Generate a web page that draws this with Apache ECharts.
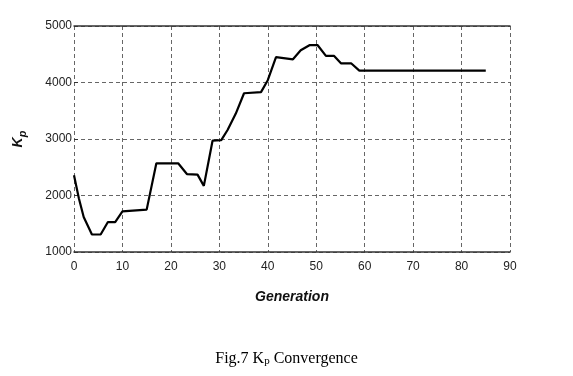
<!DOCTYPE html>
<html>
<head>
<meta charset="utf-8">
<script src="https://cdn.jsdelivr.net/npm/echarts@6/dist/echarts.min.js"></script>
<style>
  html, body { margin: 0; padding: 0; background: #fff; }
  #chart { width: 573px; height: 376px; }
</style>
</head>
<body>
<div id="chart"></div>
<script>
// vertices of the Kp curve
const generation = [0, 1, 2, 3.7, 5.5, 7, 8.5, 10, 15, 17, 21.5, 23.3, 25.5, 26.8, 28.6, 30.4, 31.7, 33.4, 35.1, 38.6, 40, 41.7, 45.2, 46.8, 48.6, 50.3, 52, 53.7, 55.1, 57.2, 58.9, 85];
const kp = [2360, 1950, 1620, 1310, 1310, 1530, 1530, 1720, 1750, 2570, 2570, 2380, 2370, 2170, 2970, 2980, 3160, 3450, 3810, 3830, 4040, 4450, 4410, 4570, 4660, 4660, 4470, 4470, 4340, 4340, 4210, 4210];
const xTicks = [0, 10, 20, 30, 40, 50, 60, 70, 80, 90];
const yTicks = [1000, 2000, 3000, 4000, 5000];

const chart = echarts.init(document.getElementById('chart'));
const tickFont = 'Liberation Sans Narrow, Liberation Sans, sans-serif';
const gridLine = { show: true, lineStyle: { color: '#666', type: [4, 3], width: 1 } };

chart.setOption({
  animation: false,
  title: {
    text: 'Fig.7 {k|K}{s|p} Convergence',
    left: 'center',
    top: 345,
    textStyle: {
      fontFamily: 'Liberation Serif',
      fontSize: 16,
      fontWeight: 'normal',
      color: '#000',
      rich: {
        k: { fontFamily: 'Liberation Serif', fontSize: 16, color: '#000' },
        s: { fontFamily: 'Liberation Serif', fontSize: 11, color: '#000', verticalAlign: 'bottom', padding: [6, 0, 0, 0] }
      }
    }
  },
  grid: { left: 74, right: 63, top: 26, bottom: 124 },
  xAxis: [{
    type: 'value',
    min: 0, max: 90, interval: 10,
    name: 'Generation',
    nameLocation: 'middle',
    nameGap: 38,
    nameTextStyle: { fontFamily: 'Liberation Sans', fontStyle: 'italic', fontWeight: 'bold', fontSize: 14, color: '#111' },
    axisLine: { show: true, lineStyle: { color: '#333', width: 1.5 } },
    axisTick: { show: false },
    axisLabel: { fontFamily: tickFont, fontSize: 12, color: '#222', margin: 9,
      formatter: v => xTicks.includes(v) ? String(v) : '' },
    splitLine: gridLine
  }, {
    type: 'value',
    position: 'top',
    min: 0, max: 90, interval: 10,
    axisLine: { show: true, lineStyle: { color: '#333', width: 1.5 } },
    axisTick: { show: false },
    axisLabel: { show: false },
    splitLine: { show: false }
  }],
  yAxis: {
    type: 'value',
    min: 1000, max: 5000, interval: 1000,
    name: '{k|K}{p|p}',
    nameLocation: 'middle',
    nameRotate: 90,
    nameGap: 46,
    nameTextStyle: {
      rich: {
        k: { fontFamily: 'Liberation Sans', fontStyle: 'italic', fontWeight: 'bold', fontSize: 14, color: '#111' },
        p: { fontFamily: 'Liberation Sans', fontStyle: 'italic', fontWeight: 'bold', fontSize: 11, color: '#111', padding: [8, 0, 0, 0] }
      }
    },
    axisLine: { show: false },
    axisTick: { show: true, inside: true, length: 4, lineStyle: { color: '#333' } },
    axisLabel: { fontFamily: tickFont, fontSize: 12, color: '#222', margin: 2,
      formatter: v => yTicks.includes(v) ? String(v) : '' },
    splitLine: gridLine
  },
  series: [{
    type: 'line',
    data: generation.map((g, i) => [g, kp[i]]),
    showSymbol: false,
    lineStyle: { color: '#000', width: 2.2 }
  }]
});
</script>
</body>
</html>
